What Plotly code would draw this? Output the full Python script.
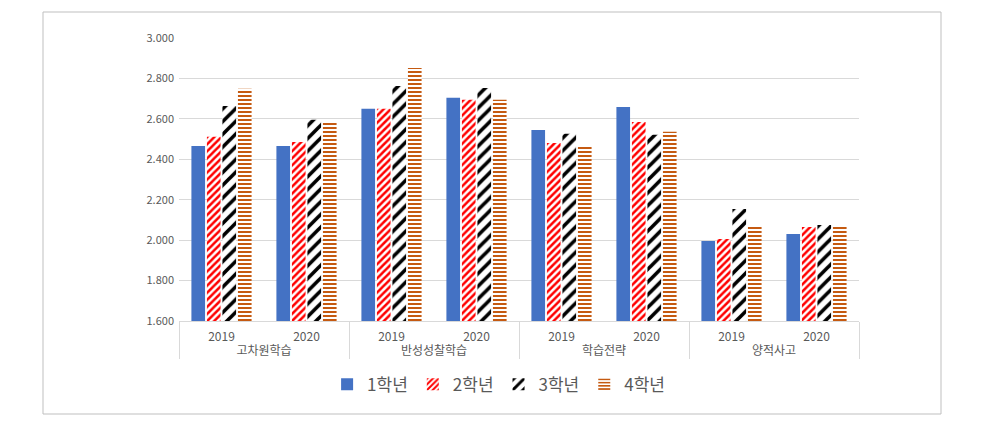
import plotly.graph_objects as go

categories = ["고차원학습", "반성성찰학습", "학습전략", "양적사고"]
years = ["2019", "2020"]
grade1 = [2.466, 2.466, 2.650, 2.704, 2.545, 2.659, 1.996, 2.031]
grade2 = [2.511, 2.486, 2.650, 2.694, 2.481, 2.585, 2.006, 2.065]
grade3 = [2.664, 2.595, 2.763, 2.753, 2.526, 2.521, 2.154, 2.075]
grade4 = [2.749, 2.580, 2.852, 2.694, 2.461, 2.536, 2.075, 2.075]
series_names = ["1학년", "2학년", "3학년", "4학년"]
y_ticks = [1.6, 1.8, 2.0, 2.2, 2.4, 2.6, 2.8, 3.0]

x_cat = [c for c in categories for _ in years]
x_year = [y for _ in categories for y in years]

FONT = "Noto Sans CJK KR, Noto Sans, sans-serif"
GREY = "#595959"

fig = go.Figure()
fig.add_trace(go.Bar(x=[x_cat, x_year], y=grade1, name=series_names[0],
                     marker=dict(color="#4472C4", line=dict(width=0))))
fig.add_trace(go.Bar(x=[x_cat, x_year], y=grade2, name=series_names[1],
                     marker=dict(color="white", line=dict(width=0),
                                 pattern=dict(shape="/", fgcolor="#FF0000", bgcolor="white",
                                              fgopacity=1, size=5, solidity=0.5))))
fig.add_trace(go.Bar(x=[x_cat, x_year], y=grade3, name=series_names[2],
                     marker=dict(color="white", line=dict(width=0),
                                 pattern=dict(shape="/", fgcolor="#000000", bgcolor="white",
                                              fgopacity=1, size=9, solidity=0.4))))
fig.add_trace(go.Bar(x=[x_cat, x_year], y=grade4, name=series_names[3],
                     marker=dict(color="white", line=dict(width=0),
                                 pattern=dict(shape="-", fgcolor="#C55A11", bgcolor="white",
                                              fgopacity=1, size=4, solidity=0.5))))

fig.update_layout(
    width=984, height=428,
    margin=dict(l=179, r=125, t=38, b=107),
    paper_bgcolor="white", plot_bgcolor="white",
    barmode="group", bargap=0.27, bargroupgap=0.12,
    font=dict(family=FONT, color=GREY, size=11),
    showlegend=True,
    legend=dict(orientation="h", x=0.47, xanchor="center", y=-0.225, yanchor="middle",
                font=dict(size=17, color=GREY), traceorder="normal",
                itemwidth=30),
    shapes=[dict(type="rect", xref="paper", yref="paper",
                 x0=(43 - 179) / 680, x1=(941 - 179) / 680,
                 y0=(321 - 414) / 283, y1=(321 - 12) / 283,
                 line=dict(color="#BFBFBF", width=1), fillcolor="rgba(0,0,0,0)", layer="below")],
)
fig.update_yaxes(range=[1.6, 3.0], tickvals=y_ticks, tickformat=".3f",
                 gridcolor="#D9D9D9", gridwidth=1, showline=False, zeroline=False,
                 tickfont=dict(size=11, color=GREY), ticks="", ticklabelstandoff=4)
fig.update_xaxes(type="multicategory", showline=True, linecolor="#D9D9D9", linewidth=1,
                 showdividers=True, dividercolor="#D9D9D9", dividerwidth=1,
                 tickfont=dict(size=12, color=GREY), ticks="", ticklabelstandoff=5)

fig.write_html("out.html")
